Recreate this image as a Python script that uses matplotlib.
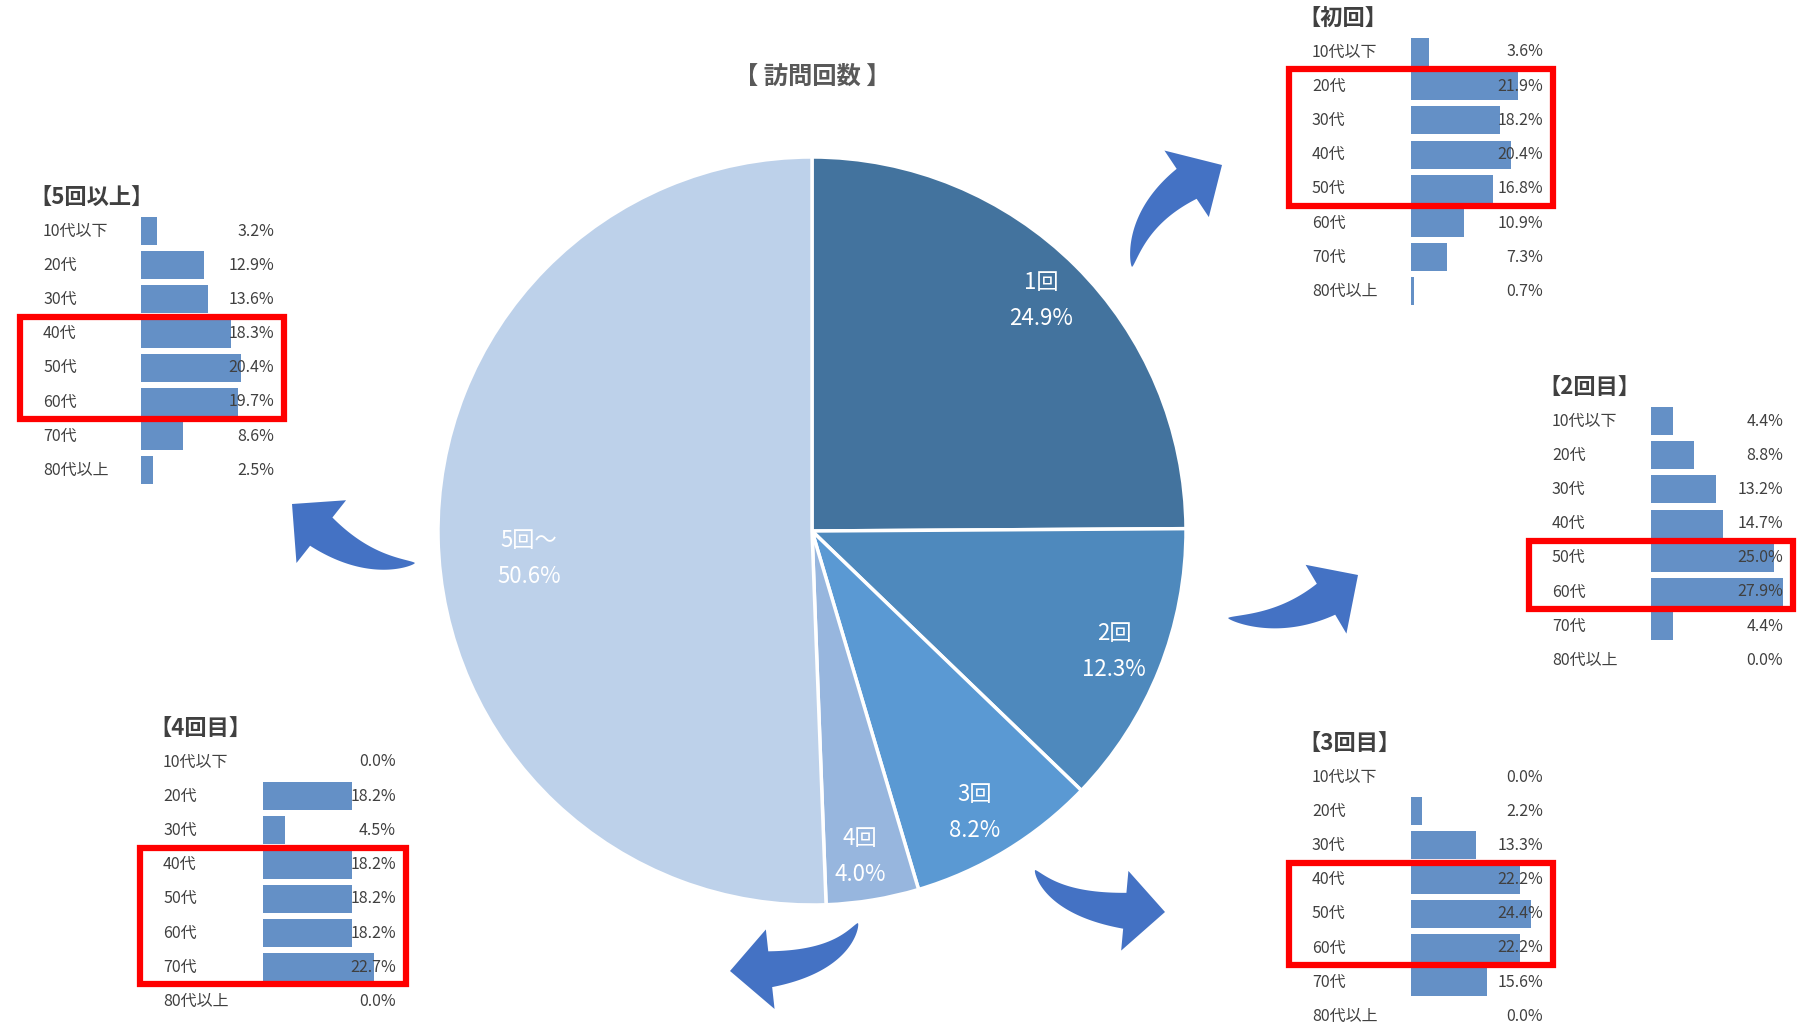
import numpy as np
import matplotlib
matplotlib.use('Agg')
import matplotlib.pyplot as plt
from matplotlib.patches import Polygon, Rectangle

plt.rcParams['font.family'] = ['Noto Sans CJK JP', 'DejaVu Sans']

# pie data
visit_labels = ['1回', '2回', '3回', '4回', '5回～']
visit_share = [24.9, 12.3, 8.2, 4.0, 50.6]
pie_colors = ['#43739E', '#4E89BD', '#5A99D3', '#97B6DE', '#BDD1EA']
label_dist = [0.87, 0.87, 0.87, 0.88, 0.76]
label_turn = [0, 0, -1.3, -1.0, 4.5]

# age breakdown per visit count
ages = ['10代以下', '20代', '30代', '40代', '50代', '60代', '70代', '80代以上']
first = [3.6, 21.9, 18.2, 20.4, 16.8, 10.9, 7.3, 0.7]
second = [4.4, 8.8, 13.2, 14.7, 25.0, 27.9, 4.4, 0.0]
third = [0.0, 2.2, 13.3, 22.2, 24.4, 22.2, 15.6, 0.0]
fourth = [0.0, 18.2, 4.5, 18.2, 18.2, 18.2, 22.7, 0.0]
fifth = [3.2, 12.9, 13.6, 18.3, 20.4, 19.7, 8.6, 2.5]

W, H = 1800, 1024
fig = plt.figure(figsize=(W / 100, H / 100), dpi=100)
fig.patch.set_facecolor('white')

base = fig.add_axes([0, 0, 1, 1])
wedges, _ = base.pie(visit_share, colors=pie_colors, startangle=90, counterclock=False,
                     center=(812, H - 531), radius=374,
                     wedgeprops=dict(edgecolor='white', linewidth=2.5))
base.set_aspect('auto')
base.set_xlim(0, W)
base.set_ylim(0, H)
base.axis('off')

for w, lab, val, d, turn in zip(wedges, visit_labels, visit_share, label_dist, label_turn):
    ang = np.deg2rad((w.theta1 + w.theta2) / 2 + turn)
    cx = w.center[0] + d * w.r * np.cos(ang)
    cy = w.center[1] + d * w.r * np.sin(ang)
    base.text(cx, cy + 18, lab, color='white', fontsize=16, ha='center', va='center')
    base.text(cx, cy - 18, '%.1f%%' % val, color='white', fontsize=16, ha='center', va='center')

base.text(812, H - 77, '【 訪問回数 】', color='#595959', fontsize=17.5, fontweight='bold',
          ha='center', va='center')


def curved_arrow(ax, p0, c, p1, head_len=40, head_w=80, tail_w=36, color='#4472C4'):
    # block arrow along a quadratic curve, tail tapering to a point (image coords)
    p0, c, p1 = np.array(p0, float), np.array(c, float), np.array(p1, float)
    bez = lambda t: ((1 - t) ** 2)[:, None] * p0 + (2 * (1 - t) * t)[:, None] * c + (t ** 2)[:, None] * p1
    der = lambda t: (2 * (1 - t))[:, None] * (c - p0) + (2 * t)[:, None] * (p1 - c)
    tt = np.linspace(0, 1, 600)
    dist = np.linalg.norm(bez(tt) - p1, axis=1)
    tb = tt[np.where(dist >= head_len)[0][-1]]
    ts = np.linspace(0, tb, 80)
    pts = bez(ts)
    tg = der(ts)
    tg = tg / np.linalg.norm(tg, axis=1)[:, None]
    nr = np.column_stack([-tg[:, 1], tg[:, 0]])
    wd = tail_w * (ts / tb) ** 0.7 / 2
    left = pts + nr * wd[:, None]
    right = pts - nr * wd[:, None]
    hb = pts[-1]
    h1 = hb + nr[-1] * head_w / 2
    h2 = hb - nr[-1] * head_w / 2
    poly = np.vstack([left, [h1], [p1], [h2], right[::-1]])
    poly[:, 1] = H - poly[:, 1]
    ax.add_patch(Polygon(poly, closed=True, facecolor=color, edgecolor='none'))


# arrows: tail, control, tip (pixel coords, y down)
arrows = [((1132, 267), (1140, 200), (1222, 165)),
          ((1228, 618), (1300, 629), (1358, 575)),
          ((1035, 870), (1063, 914), (1165, 912)),
          ((858, 923), (834, 972), (730, 971)),
          ((415, 563), (351, 569), (292, 504))]
for a, c, b in arrows:
    curved_arrow(base, a, c, b)

# panels: title, values, label x, bar x, value right x, first row y, highlighted rows
panels = [('【初回】', first, 1312, 1411, 1543, 52, (1, 4)),
          ('【2回目】', second, 1552, 1651, 1783, 421, (4, 5)),
          ('【3回目】', third, 1312, 1411, 1543, 777, (3, 5)),
          ('【4回目】', fourth, 163, 263, 396, 762, (3, 6)),
          ('【5回以上】', fifth, 43, 141, 274, 231, (3, 5))]
step = 34.2
px_per_pct = 4.9

for title, vals, lx, bx, vx, y0, hl in panels:
    top = y0 - step / 2
    ax = fig.add_axes([bx / W, 1 - (top + 8 * step) / H, (vx - bx) / W, 8 * step / H])
    ax.barh(range(len(ages)), vals, height=0.82, color='#6490C6')
    ax.set_xlim(0, (vx - bx) / px_per_pct)
    ax.set_ylim(7.5, -0.5)
    ax.axis('off')
    tr = ax.get_yaxis_transform()
    fx = lambda x: (x - bx) / (vx - bx)
    for i, (age, v) in enumerate(zip(ages, vals)):
        ax.text(fx(lx), i, age, transform=tr, fontsize=11.5, color='#404040',
                ha='left', va='center')
        ax.text(1.0, i, '%.1f%%' % v, transform=tr, fontsize=11.5, color='#404040',
                ha='right', va='center')
    ax.text(fx(lx - 14), -0.95, title, transform=tr, fontsize=16, fontweight='bold',
            color='#404040', ha='left', va='center')
    r0, r1 = hl
    ax.add_patch(Rectangle((fx(lx - 23), r0 - 0.5), fx(vx + 10) - fx(lx - 23), r1 - r0 + 1,
                           transform=tr, fill=False, edgecolor='#FF0000', lw=4.5,
                           clip_on=False, zorder=5))

fig.savefig('out.png', dpi=100, facecolor='white')
